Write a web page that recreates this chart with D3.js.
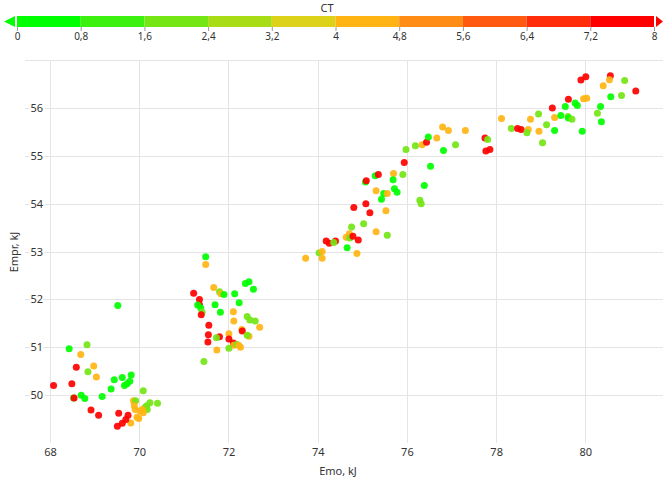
<!DOCTYPE html>
<html>
<head>
<meta charset="utf-8">
<script src="https://cdn.jsdelivr.net/npm/d3@7/dist/d3.min.js"></script>
<style>
  html, body { margin: 0; padding: 0; background: #fff; }
  svg { display: block; font-family: "Noto Sans", "DejaVu Sans", sans-serif; }
</style>
</head>
<body>
<svg id="chart" width="663" height="482"></svg>
<script>
// Emo (kJ), Empr (kJ) and CT for each measurement
const emo = [
  68.43, 68.83, 68.69, 68.59, 68.98, 68.85, 69.04, 68.08, 68.49, 69.44,
  69.62, 69.82, 69.79, 69.73, 69.67, 69.37, 70.09, 68.70, 68.78, 68.53,
  68.54, 69.17, 69.87, 69.92, 69.89, 69.91, 70.24, 70.41, 70.17, 70.13,
  70.18, 70.07, 70.02, 70.09, 69.95, 69.99, 69.81, 68.92, 69.09, 69.54,
  69.75, 69.70, 69.62, 69.51, 69.52,
  71.49, 71.49, 71.67, 71.80, 71.83, 71.90, 72.38, 72.46, 72.56, 72.14,
  71.22, 71.35, 71.35, 71.31, 71.38, 71.41, 71.39, 71.70, 71.82, 72.24,
  72.11, 72.12, 72.42, 72.48, 72.60, 72.70, 71.56, 72.30, 72.31, 72.01,
  72.46, 72.42, 71.55, 71.80, 71.73, 72.01, 72.11, 72.12, 72.19, 72.23,
  72.27, 72.01, 71.74, 71.54, 71.45,
  73.73, 74.03, 74.10, 74.10, 74.19, 74.26, 74.40, 74.36, 74.66, 74.88,
  74.64, 74.71, 74.72, 74.79, 74.91, 74.76, 75.03, 75.31, 75.56, 74.81,
  75.08, 75.17, 75.53, 75.07, 75.09, 75.29, 75.36, 75.70, 75.91, 75.69,
  75.31, 75.48, 75.56, 75.72, 75.78, 75.43, 76.39, 76.29, 76.32,
  75.98, 75.94, 76.19, 76.34, 76.44, 76.48, 76.67, 76.80, 76.93, 76.82,
  77.09, 77.31, 77.75, 77.81, 77.77, 77.86, 76.53,
  78.12, 78.34, 78.48, 78.56, 78.72, 78.77, 78.69, 78.95, 78.96, 79.04,
  79.13, 79.31, 79.31, 79.26, 79.45, 79.61, 79.62, 79.70, 79.62, 79.55,
  79.77, 79.82, 79.93, 79.90, 80.01, 79.96, 80.03, 80.56, 80.54, 80.40,
  80.88, 81.13, 80.57, 80.81, 80.34, 80.27, 80.36
];
const empr = [
  50.97, 51.05, 50.85, 50.58, 50.61, 50.49, 50.38, 50.20, 50.24, 50.32,
  50.37, 50.42, 50.29, 50.24, 50.20, 50.13, 50.09, 50.00, 49.93, 49.94,
  49.94, 49.97, 49.88, 49.88, 49.78, 49.70, 49.84, 49.83, 49.78, 49.74,
  49.70, 49.70, 49.67, 49.63, 49.54, 49.51, 49.42, 49.69, 49.58, 49.62,
  49.58, 49.49, 49.41, 49.35, 51.87,
  52.89, 52.73, 52.25, 52.16, 52.12, 52.10, 52.33, 52.37, 52.21, 52.12,
  52.13, 52.00, 51.89, 51.88, 51.82, 51.73, 51.68, 51.89, 51.73, 51.93,
  51.74, 51.55, 51.64, 51.57, 51.55, 51.42, 51.46, 51.37, 51.34, 51.28,
  51.23, 51.25, 51.26, 51.22, 51.20, 51.17, 51.09, 51.04, 51.06, 51.04,
  51.00, 50.98, 50.94, 51.11, 50.70,
  52.86, 52.97, 53.00, 52.86, 53.22, 53.17, 53.22, 53.19, 53.08, 52.96,
  53.30, 53.37, 53.28, 53.32, 53.24, 53.51, 53.58, 53.41, 53.34, 53.92,
  54.00, 53.81, 53.85, 54.45, 54.48, 54.58, 54.61, 54.63, 54.61, 54.50,
  54.27, 54.21, 54.21, 54.31, 54.24, 54.09, 54.38, 54.07, 54.00,
  55.13, 54.86, 55.21, 55.23, 55.28, 55.39, 55.37, 55.60, 55.53, 55.11,
  55.23, 55.53, 55.37, 55.34, 55.10, 55.13, 54.78,
  55.78, 55.57, 55.57, 55.55, 55.55, 55.76, 55.48, 55.87, 55.51, 55.27,
  55.65, 55.80, 55.53, 56.00, 55.84, 55.82, 55.79, 55.76, 56.18, 56.03,
  56.10, 56.05, 55.51, 56.58, 56.65, 56.19, 56.20, 56.67, 56.59, 56.46,
  56.57, 56.35, 56.23, 56.26, 56.03, 55.89, 55.71
];
const ct = [
  0.4, 2.0, 4.4, 7.6, 4.4, 2.0, 4.4, 7.6, 7.6, 0.4,
  0.4, 0.4, 0.4, 0.4, 0.4, 0.4, 2.0, 0.4, 0.4, 0.4,
  7.6, 0.4, 4.4, 2.0, 4.4, 4.4, 2.0, 2.0, 2.0, 2.0,
  2.0, 4.4, 4.4, 4.4, 4.4, 4.4, 4.4, 7.6, 7.6, 7.6,
  7.6, 7.6, 7.6, 7.6, 0.4,
  0.4, 4.4, 4.4, 2.0, 4.4, 0.4, 0.4, 0.4, 0.4, 0.4,
  7.6, 7.6, 7.6, 0.4, 0.4, 2.0, 7.6, 0.4, 0.4, 0.4,
  4.4, 4.4, 2.0, 2.0, 2.0, 4.4, 7.6, 4.4, 7.6, 4.4,
  4.4, 2.0, 7.6, 7.6, 2.0, 7.6, 7.6, 4.4, 2.0, 4.4,
  4.4, 2.0, 4.4, 7.6, 2.0,
  4.4, 2.0, 4.4, 4.4, 7.6, 7.6, 7.6, 2.0, 0.4, 4.4,
  4.4, 4.4, 2.0, 7.6, 7.6, 2.0, 2.0, 4.4, 2.0, 7.6,
  7.6, 7.6, 4.4, 0.4, 7.6, 0.4, 7.6, 4.4, 2.0, 0.4,
  4.4, 0.4, 4.4, 0.4, 0.4, 0.4, 0.4, 2.0, 2.0,
  2.0, 7.6, 2.0, 4.4, 7.6, 0.4, 4.4, 4.4, 4.4, 0.4,
  2.0, 4.4, 7.6, 2.0, 7.6, 7.6, 0.4,
  4.4, 2.0, 7.6, 7.6, 4.4, 4.4, 2.0, 2.0, 4.4, 2.0,
  2.0, 4.4, 0.4, 7.6, 0.4, 2.0, 0.4, 2.0, 7.6, 0.4,
  0.4, 0.4, 0.4, 7.6, 7.6, 4.4, 4.4, 7.6, 4.4, 4.4,
  2.0, 7.6, 0.4, 2.0, 0.4, 2.0, 0.4
];

// Colour legend: CT bands and their colours
const ctStops = [0, 0.8, 1.6, 2.4, 3.2, 4, 4.8, 5.6, 6.4, 7.2, 8];
const ctColors = ["#00ff00", "#3cf010", "#73e614", "#a8dc14", "#dcd21a",
                  "#ffb414", "#ff8c14", "#ff5a0f", "#ff2d0a", "#ff0000"];
const xTicks = [68, 70, 72, 74, 76, 78, 80];
const yTicks = [50, 51, 52, 53, 54, 55, 56];
const yGrid = [50, 51, 52, 53, 54, 55, 56, 57];

const svg = d3.select("#chart");
const plot = { left: 25, right: 663, top: 60, bottom: 443 };

const x = d3.scaleLinear().domain([67.44, 81.74]).range([plot.left, plot.right]);
const y = d3.scaleLinear().domain([49, 57]).range([plot.bottom, plot.top]);
const color = d3.scaleThreshold().domain(ctStops.slice(1, -1)).range(ctColors);
const fmt = d => String(d).replace(".", ",");

// ---- legend ----
const lx = d3.scaleLinear().domain([0, 8]).range([17, 654]);
const legend = svg.append("g");
legend.append("text")
  .attr("x", 327).attr("y", 12)
  .attr("text-anchor", "middle")
  .attr("font-size", 11).attr("fill", "#333")
  .text("CT");
legend.selectAll("rect.band")
  .data(ctColors)
  .join("rect")
  .attr("class", "band")
  .attr("x", (d, i) => lx(ctStops[i]))
  .attr("width", (d, i) => lx(ctStops[i + 1]) - lx(ctStops[i]))
  .attr("y", 16).attr("height", 11)
  .attr("fill", d => d);
legend.append("path")
  .attr("d", "M4,21.5L15,16L15,27Z")
  .attr("fill", ctColors[0]);
legend.append("path")
  .attr("d", "M656,16L663,21.5L656,27Z")
  .attr("fill", ctColors[ctColors.length - 1]);
const legendAxis = d3.axisBottom(lx).tickValues(ctStops).tickFormat(fmt)
  .tickSize(4).tickPadding(2);
legend.append("g")
  .attr("transform", "translate(0,27)")
  .call(legendAxis)
  .call(g => g.select(".domain").remove())
  .call(g => g.selectAll("line").attr("stroke", "#999"))
  .call(g => g.selectAll("text").attr("font-size", 10).attr("fill", "#333")
    .attr("font-family", "\"Noto Sans\", sans-serif"));

// ---- grid ----
const grid = svg.append("g");
grid.selectAll("line.h")
  .data(yGrid)
  .join("line")
  .attr("x1", plot.left).attr("x2", plot.right)
  .attr("y1", d => Math.round(y(d)) + 0.5).attr("y2", d => Math.round(y(d)) + 0.5)
  .attr("stroke", "#e4e4e4");
grid.selectAll("line.v")
  .data(xTicks)
  .join("line")
  .attr("y1", plot.top).attr("y2", plot.bottom)
  .attr("x1", d => Math.round(x(d)) + 0.5).attr("x2", d => Math.round(x(d)) + 0.5)
  .attr("stroke", "#e4e4e4");

// ---- axes ----
svg.append("g")
  .attr("transform", `translate(${plot.left},0)`)
  .call(d3.axisBottom(x).tickValues([]))
  .remove();

const yAxis = svg.append("g")
  .attr("transform", "translate(46,0)")
  .call(d3.axisLeft(y).tickValues(yTicks).tickSize(0).tickPadding(3));
yAxis.select(".domain").remove();
yAxis.selectAll("text")
  .attr("font-size", 11).attr("fill", "#333")
  .attr("font-family", "\"Noto Sans\", sans-serif")
  .attr("stroke", "#fff").attr("stroke-width", 4)
  .attr("paint-order", "stroke");

const xAxis = svg.append("g")
  .attr("transform", `translate(0,${plot.bottom})`)
  .call(d3.axisBottom(x).tickValues(xTicks).tickSize(0).tickPadding(5));
xAxis.select(".domain").remove();
xAxis.selectAll("text")
  .attr("font-size", 11).attr("fill", "#333")
  .attr("font-family", "\"Noto Sans\", sans-serif");

svg.append("text")
  .attr("x", 338).attr("y", 475)
  .attr("text-anchor", "middle")
  .attr("font-size", 11).attr("fill", "#333")
  .text("Emo, kJ");
svg.append("text")
  .attr("transform", "translate(18,252) rotate(-90)")
  .attr("text-anchor", "middle")
  .attr("font-size", 11).attr("fill", "#333")
  .text("Empr, kJ");

// ---- points ----
const points = emo.map((e, i) => ({ emo: e, empr: empr[i], ct: ct[i] }));
svg.append("g")
  .selectAll("circle")
  .data(points)
  .join("circle")
  .attr("cx", d => x(d.emo))
  .attr("cy", d => y(d.empr))
  .attr("r", 3.5)
  .attr("fill", d => color(d.ct))
  .attr("fill-opacity", 0.92);
</script>
</body>
</html>
